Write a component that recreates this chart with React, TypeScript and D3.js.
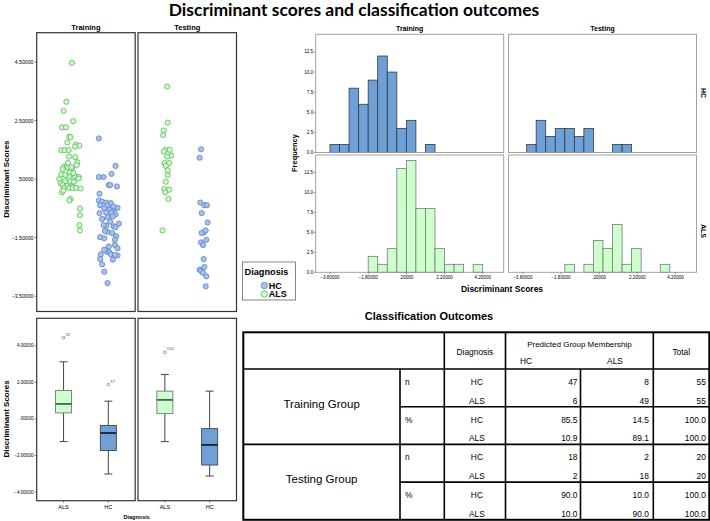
import React from 'react';
import * as d3 from 'd3';

const panels = ['Training', 'Testing'];
const diagnoses = ['ALS', 'HC'];

// scatter points: [horizontal jitter (-1..1), discriminant score]
const trainALS: [number, number][] = [
  [0.45, 4.47], [-0.06, 3.14], [-0.31, 2.83], [0.57, 2.48], [-0.46, 2.27], [-0.09, 2.27], [0.21, 1.95], [0.33, 1.93],
  [0.03, 1.75], [0.82, 1.68], [1.12, 1.64], [0.72, 1.61], [-0.52, 1.49], [-0.21, 1.49], [0.15, 1.49], [0.18, 1.27],
  [0.75, 1.25], [0.94, 1.07], [0.87, 0.98], [-0.28, 0.93], [-0.03, 0.91], [0.09, 0.89], [-0.4, 0.84], [0.45, 0.86],
  [0.27, 0.73], [-0.52, 0.66], [-0.15, 0.64], [0.75, 0.59], [1.06, 0.57], [0.21, 0.57], [-0.7, 0.5], [-0.21, 0.43],
  [0.33, 0.43], [0.63, 0.41], [1.06, 0.52], [-0.58, 0.36], [-0.4, 0.3], [-0.03, 0.27], [0.45, 0.25], [-0.28, 0.2],
  [0.21, 0.2], [0.51, 0.2], [0.82, 0.2], [1.24, 0.18], [-0.46, 0.05], [-0.33, 0.11], [0.33, -0.18], [0.21, -0.23],
  [1.18, -0.5], [1.18, -0.73], [1.12, -1.07], [1.18, -1.25], [0.39, 0.91], [0.57, 0.7], [0.09, 1.05],
];
const trainHC: [number, number][] = [
  [-0.55, 1.89], [0.97, 0.95], [0.6, 0.68], [-0.55, 0.57], [-0.12, 0.57], [0.36, 0.3], [0.48, 0.3], [1.09, 0.25],
  [-0.49, 0.0], [-0.55, -0.23], [-0.25, -0.27], [0.12, -0.3], [-0.43, -0.39], [0.24, -0.39], [0.54, -0.32],
  [-0.06, -0.5], [0.42, -0.55], [0.85, -0.5], [1.15, -0.48], [-0.49, -0.66], [0.12, -0.64], [0.6, -0.64],
  [0.97, -0.7], [-0.25, -0.86], [0.24, -0.8], [0.72, -0.77], [1.27, -1.02], [0.78, -1.11], [0.97, -1.14],
  [0.12, -1.09], [0.24, -1.3], [0.0, -1.27], [1.03, -1.45], [-0.43, -1.48], [-0.06, -1.52], [0.91, -1.57],
  [0.91, -1.75], [1.15, -1.86], [0.18, -1.98], [0.42, -2.0], [-0.37, -2.07], [0.54, -2.07], [1.15, -2.11],
  [0.91, -2.09], [-0.43, -2.23], [-0.25, -2.41], [-0.06, -2.66], [0.24, -3.05], [0.78, -0.43], [0.48, -0.95],
  [-0.12, -1.07], [0.66, -1.34], [0.36, -1.8], [-0.06, -1.91], [0.72, -2.25],
];
const testALS: [number, number][] = [
  [-0.11, 3.66], [-0.05, 2.43], [-0.41, 2.16], [-0.47, 2.0], [-0.23, 1.5], [0.13, 1.5], [0.25, 1.3], [-0.11, 1.27],
  [-0.35, 1.05], [0.07, 1.05], [-0.23, 0.95], [-0.05, 0.64], [-0.23, 0.41], [-0.35, 0.16], [0.07, 0.14],
  [-0.29, 0.05], [0.01, -0.18], [-0.53, -1.25], [-0.41, 1.45], [-0.05, 0.8],
];
const testHC: [number, number][] = [
  [-0.47, 1.52], [-0.59, 1.23], [-0.53, -0.3], [-0.17, -0.39], [0.07, -0.39], [-0.41, -0.66], [0.13, -0.98],
  [-0.23, -1.32], [-0.41, -1.34], [-0.05, -1.25], [0.01, -1.57], [-0.47, -1.66], [-0.29, -1.75], [-0.23, -2.23],
  [-0.59, -2.59], [-0.47, -2.64], [-0.17, -2.5], [-0.29, -2.7], [0.01, -2.82], [-0.05, -3.16],
];

const scatterTicks = [4.5, 2.5, 0.5, -1.5, -3.5];
const boxTicks = [4, 2, 0, -2, -4];
const histXTicks = [-3.8, -1.8, 0.2, 2.2, 4.2];
const histYTicks = [0, 2.5, 5, 7.5, 10, 12.5];

// box plot summaries: [low whisker, Q1, median, Q3, high whisker]
const trainALSBox = [-1.24, 0.33, 0.82, 1.55, 3.12];
const trainHCBox = [-3.01, -1.73, -0.77, -0.36, 0.97];
const testALSBox = [-1.24, 0.29, 1.04, 1.52, 2.43];
const testHCBox = [-3.12, -2.52, -1.42, -0.53, 1.52];
const boxOutliers = [
  { panel: 'Training', dx: 'ALS', v: 4.44, id: '32' },
  { panel: 'Training', dx: 'HC', v: 1.88, id: '57' },
  { panel: 'Testing', dx: 'ALS', v: 3.64, id: '120' },
];

// histograms (bin width 0.5)
const binWidth = 0.5;
const trainHCStart = -3.8;
const trainHCCounts = [1, 1, 8, 6, 9, 12, 10, 3, 4, 0, 1];
const testHCStart = -3.6;
const testHCCounts = [1, 4, 2, 3, 3, 2, 3, 0, 0, 1, 1];
const trainALSStart = -1.8;
const trainALSCounts = [2, 1, 3, 13, 14, 8, 8, 3, 1, 1, 0, 1];
const testALSStart = -1.6;
const testALSCounts = [1, 0, 1, 4, 3, 6, 1, 3, 0, 0, 1];

// classification table
const tableGroups = ['Training Group', 'Testing Group'];
const tableStats = ['n', '%'];
const tableDiag = ['HC', 'ALS'];
const predictedHC = ['47', '6', '85.5', '10.9', '18', '2', '90.0', '10.0'];
const predictedALS = ['8', '49', '14.5', '89.1', '2', '18', '10.0', '90.0'];
const totals = ['55', '55', '100.0', '100.0', '20', '20', '100.0', '100.0'];

const GREEN_FILL = '#ccfacc';
const GREEN_STROKE = '#5cb85c';
const BLUE_FILL = '#a8c2ec';
const BLUE_STROKE = '#5a7fc6';
const BAR_BLUE = '#6fa1d6';
const BAR_GREEN = '#ccffcc';
const ARIAL = '"Liberation Sans", Arial, sans-serif';

const spss = (v: number) => d3.format('.5f')(v).replace(/^(-?)0\./, '$1.');

function Scatter() {
  const y = d3.scaleLinear().domain([-4.02, 5.5]).range([311.5, 32.7]);
  const x0s = [36.7, 138];
  const w = 98.5;
  const jit = d3.scaleLinear().domain([-1, 1]).range([-11, 11]);
  const data: Record<string, [number, number][][]> = {
    Training: [trainALS, trainHC],
    Testing: [testALS, testHC],
  };
  return (
    <g>
      {panels.map((p, i) => {
        const x = d3.scalePoint<string>().domain(diagnoses).range([x0s[i], x0s[i] + w]).padding(0.8);
        return (
          <g key={p}>
            <text x={x0s[i] + w / 2} y={27} textAnchor="middle" dominantBaseline="central" fontFamily={ARIAL} fontWeight="bold" fontSize={7.5}>{p}</text>
            {data[p].map((pts, k) =>
              pts.map((d, j) => (
                <circle key={`${k}-${j}`} cx={(x(diagnoses[k]) as number) + jit(d[0])} cy={y(d[1])} r={2.6}
                  fill={k === 0 ? GREEN_FILL : BLUE_FILL} stroke={k === 0 ? GREEN_STROKE : BLUE_STROKE} strokeWidth={0.8} />
              ))
            )}
            <rect x={x0s[i]} y={32.7} width={w} height={311.5 - 32.7} fill="none" stroke="#333" strokeWidth={1.2} />
          </g>
        );
      })}
      {scatterTicks.map((t) => (
        <g key={t}>
          <line x1={34.5} x2={36.7} y1={y(t)} y2={y(t)} stroke="#333" strokeWidth={0.6} />
          <text x={33.5} y={y(t)} textAnchor="end" dominantBaseline="central" fontFamily={ARIAL} fontSize={5.2}>{spss(t)}</text>
        </g>
      ))}
      <text transform={`translate(6,${y(0.5)}) rotate(-90)`} textAnchor="middle" dominantBaseline="central" fontFamily={ARIAL} fontWeight="bold" fontSize={8}>Discriminant Scores</text>
    </g>
  );
}

function Boxes() {
  const y = d3.scaleLinear().domain([-4.47, 5.5]).range([500.7, 318.3]);
  const x0s = [36.7, 138];
  const w = 98.5;
  const bw = 16;
  const stats: Record<string, number[][]> = {
    Training: [trainALSBox, trainHCBox],
    Testing: [testALSBox, testHCBox],
  };
  return (
    <g>
      {panels.map((p, i) => {
        const x = d3.scalePoint<string>().domain(diagnoses).range([x0s[i], x0s[i] + w]).padding(0.6);
        return (
          <g key={p}>
            {stats[p].map((s, k) => {
              const cx = x(diagnoses[k]) as number;
              const isALS = k === 0;
              return (
                <g key={k}>
                  <line x1={cx} x2={cx} y1={y(s[0])} y2={y(s[4])} stroke="#444" strokeWidth={1} />
                  <line x1={cx - 4} x2={cx + 4} y1={y(s[0])} y2={y(s[0])} stroke="#444" strokeWidth={1} />
                  <line x1={cx - 4} x2={cx + 4} y1={y(s[4])} y2={y(s[4])} stroke="#444" strokeWidth={1} />
                  <rect x={cx - bw / 2} y={y(s[3])} width={bw} height={y(s[1]) - y(s[3])}
                    fill={isALS ? BAR_GREEN : BAR_BLUE} stroke={isALS ? '#777' : '#444'} strokeWidth={0.9} />
                  <line x1={cx - bw / 2} x2={cx + bw / 2} y1={y(s[2])} y2={y(s[2])} stroke={isALS ? '#3d4f3d' : '#111'} strokeWidth={1.6} />
                </g>
              );
            })}
            {boxOutliers.filter((o) => o.panel === p).map((o) => {
              const cx = x(o.dx) as number;
              return (
                <g key={o.id}>
                  <circle cx={cx} cy={y(o.v)} r={1.3} fill="none" stroke={o.dx === 'ALS' ? '#4a8a4a' : '#777'} strokeWidth={0.7} />
                  <text x={cx + 2} y={y(o.v) - 2} fontFamily={ARIAL} fontSize={4.2} fill="#555">{o.id}</text>
                </g>
              );
            })}
            <rect x={x0s[i]} y={318.3} width={w} height={500.7 - 318.3} fill="none" stroke="#333" strokeWidth={1.2} />
            {diagnoses.map((d) => (
              <g key={d}>
                <line x1={x(d) as number} x2={x(d) as number} y1={500.7} y2={502.7} stroke="#333" strokeWidth={0.6} />
                <text x={x(d) as number} y={507} textAnchor="middle" dominantBaseline="central" fontFamily={ARIAL} fontSize={5.5}>{d}</text>
              </g>
            ))}
          </g>
        );
      })}
      {boxTicks.map((t) => (
        <g key={t}>
          <line x1={34.5} x2={36.7} y1={y(t)} y2={y(t)} stroke="#333" strokeWidth={0.6} />
          <text x={33.5} y={y(t)} textAnchor="end" dominantBaseline="central" fontFamily={ARIAL} fontSize={4.6}>{spss(t)}</text>
        </g>
      ))}
      <text transform={`translate(6,${y(0)}) rotate(-90)`} textAnchor="middle" dominantBaseline="central" fontFamily={ARIAL} fontWeight="bold" fontSize={8}>Discriminant Scores</text>
      <text x={136.7} y={516.5} textAnchor="middle" dominantBaseline="central" fontFamily={ARIAL} fontWeight="bold" fontSize={5.5}>Diagnosis</text>
    </g>
  );
}

function Legend() {
  return (
    <g fontFamily={ARIAL} fontWeight="bold">
      <rect x={242.5} y={262} width={53} height={38} fill="#fff" stroke="#666" strokeWidth={0.8} />
      <text x={244.5} y={271.5} dominantBaseline="central" fontSize={9.2}>Diagnosis</text>
      {['HC', 'ALS'].map((d, i) => (
        <g key={d}>
          <circle cx={264.3} cy={285.5 + i * 8.5} r={3.2} fill={d === 'HC' ? BLUE_FILL : GREEN_FILL} stroke={d === 'HC' ? BLUE_STROKE : GREEN_STROKE} strokeWidth={0.8} />
          <text x={268.8} y={285.8 + i * 8.5} dominantBaseline="central" fontSize={9}>{d}</text>
        </g>
      ))}
    </g>
  );
}

function Histograms() {
  const x0s = [315.7, 508.5];
  const w = 188;
  const rows = [
    { dx: 'HC', top: 34.3, bottom: 152.5 },
    { dx: 'ALS', top: 155, bottom: 272.3 },
  ];
  const series: Record<string, { start: number; counts: number[] }> = {
    'Training-HC': { start: trainHCStart, counts: trainHCCounts },
    'Testing-HC': { start: testHCStart, counts: testHCCounts },
    'Training-ALS': { start: trainALSStart, counts: trainALSCounts },
    'Testing-ALS': { start: testALSStart, counts: testALSCounts },
  };
  return (
    <g fontFamily={ARIAL}>
      {panels.map((p, i) => (
        <text key={p} x={x0s[i] + w / 2} y={28.3} textAnchor="middle" dominantBaseline="central" fontWeight="bold" fontSize={7}>{p}</text>
      ))}
      {rows.map((r) => {
        const y = d3.scaleLinear().domain([0, 14.7]).range([r.bottom, r.top]);
        return (
          <g key={r.dx}>
            {panels.map((p, i) => {
              const x = d3.scaleLinear().domain([-4.55, 5.3]).range([x0s[i], x0s[i] + w]);
              const s = series[`${p}-${r.dx}`];
              return (
                <g key={p}>
                  {s.counts.map((c, j) => c > 0 ? (
                    <rect key={j} x={x(s.start + j * binWidth)} y={y(c)} width={x(s.start + (j + 1) * binWidth) - x(s.start + j * binWidth)}
                      height={y(0) - y(c)} fill={r.dx === 'HC' ? BAR_BLUE : BAR_GREEN}
                      stroke={r.dx === 'HC' ? '#2f3b48' : '#7a7a7a'} strokeWidth={0.8} />
                  ) : null)}
                  <rect x={x0s[i]} y={r.top} width={w} height={r.bottom - r.top} fill="none" stroke="#999" strokeWidth={0.9} />
                  {r.dx === 'ALS' && histXTicks.map((t) => (
                    <g key={t}>
                      <line x1={x(t)} x2={x(t)} y1={r.bottom} y2={r.bottom + 2} stroke="#555" strokeWidth={0.6} />
                      <text x={x(t)} y={277.3} textAnchor="middle" dominantBaseline="central" fontSize={4.6}>{spss(t)}</text>
                    </g>
                  ))}
                </g>
              );
            })}
            {histYTicks.map((t) => (
              <g key={t}>
                <line x1={x0s[0] - 2} x2={x0s[0]} y1={y(t)} y2={y(t)} stroke="#555" strokeWidth={0.6} />
                <text x={x0s[0] - 2.5} y={y(t)} textAnchor="end" dominantBaseline="central" fontSize={4.6}>{d3.format('.1f')(t)}</text>
              </g>
            ))}
            <text transform={`translate(703.5,${r.dx === 'HC' ? 93 : 231}) rotate(90)`} textAnchor="middle" dominantBaseline="central" fontWeight="bold" fontSize={7}>{r.dx}</text>
          </g>
        );
      })}
      <text transform="translate(294,153) rotate(-90)" textAnchor="middle" dominantBaseline="central" fontWeight="bold" fontSize={7.5}>Frequency</text>
      <text x={502} y={288.5} textAnchor="middle" dominantBaseline="central" fontWeight="bold" fontSize={8.5}>Discriminant Scores</text>
    </g>
  );
}

function Table() {
  const left = 243.3, right = 709.3, top = 332.3, headBottom = 369, bottom = 519.8;
  const cols = [left, 400, 444.3, 505.5, 580.5, 653.3, right];
  const rows = d3.scaleBand<number>().domain(d3.range(8)).range([headBottom, bottom]).paddingInner(0).paddingOuter(0);
  const rh = rows.bandwidth();
  const ty = (i: number) => (rows(i) as number) + rh * 0.68;
  const fs = 8.4;
  return (
    <g fontFamily={ARIAL}>
      <text x={429} y={315.7} textAnchor="middle" dominantBaseline="central" fontWeight="bold" fontSize={11}>Classification Outcomes</text>
      {/* header */}
      <text x={(cols[2] + cols[3]) / 2} y={351.7} textAnchor="middle" dominantBaseline="central" fontSize={fs}>Diagnosis</text>
      <text x={(cols[3] + cols[5]) / 2} y={344} textAnchor="middle" dominantBaseline="central" fontSize={8}>Predicted Group Membership</text>
      <text x={526} y={360.5} textAnchor="middle" dominantBaseline="central" fontSize={fs}>HC</text>
      <text x={615} y={360.5} textAnchor="middle" dominantBaseline="central" fontSize={fs}>ALS</text>
      <text x={(cols[5] + cols[6]) / 2} y={352} textAnchor="middle" dominantBaseline="central" fontSize={fs}>Total</text>
      {/* body */}
      {tableGroups.map((g, gi) => (
        <text key={g} x={(cols[0] + cols[1]) / 2} y={((rows(gi * 4) as number) + (rows(gi * 4 + 3) as number) + rh) / 2 - 3}
          textAnchor="middle" dominantBaseline="central" fontSize={11.5}>{g}</text>
      ))}
      {d3.range(8).map((i) => (
        <g key={i}>
          {i % 2 === 0 && (
            <text x={405} y={ty(i)} dominantBaseline="central" fontSize={fs}>{tableStats[(i / 2) % 2]}</text>
          )}
          <text x={(cols[2] + cols[3]) / 2 + 2} y={ty(i)} textAnchor="middle" dominantBaseline="central" fontSize={fs}>{tableDiag[i % 2]}</text>
          <text x={cols[4] - 3} y={ty(i)} textAnchor="end" dominantBaseline="central" fontSize={fs}>{predictedHC[i]}</text>
          <text x={cols[5] - 4.5} y={ty(i)} textAnchor="end" dominantBaseline="central" fontSize={fs}>{predictedALS[i]}</text>
          <text x={cols[6] - 3.5} y={ty(i)} textAnchor="end" dominantBaseline="central" fontSize={fs}>{totals[i]}</text>
        </g>
      ))}
      {/* grid lines */}
      <g stroke="#000" strokeWidth={1.6}>
        <line x1={left} x2={right} y1={headBottom} y2={headBottom} />
        <line x1={left} x2={right} y1={rows(4) as number} y2={rows(4) as number} />
        {[2, 6].map((r) => (
          <line key={r} x1={cols[1]} x2={right} y1={rows(r) as number} y2={rows(r) as number} />
        ))}
        {[2, 3, 5].map((c) => (
          <line key={c} x1={cols[c]} x2={cols[c]} y1={top} y2={bottom} />
        ))}
        {[1, 4].map((c) => (
          <line key={c} x1={cols[c]} x2={cols[c]} y1={headBottom} y2={bottom} />
        ))}
      </g>
      <rect x={left} y={top} width={right - left} height={bottom - top} fill="none" stroke="#000" strokeWidth={2} />
    </g>
  );
}

export default function App() {
  return (
    <svg width={710} height={521} viewBox="0 0 710 521" style={{ position: 'absolute', left: 0, top: 0, background: '#fff' }}>
      <rect x={0} y={0} width={710} height={521} fill="#fff" />
      <text x={354} y={9.5} textAnchor="middle" dominantBaseline="central" fontFamily="Lato, 'Open Sans', sans-serif" fontWeight="bold" fontSize={17.5}>
        Discriminant scores and classification outcomes
      </text>
      <Scatter />
      <Boxes />
      <Legend />
      <Histograms />
      <Table />
    </svg>
  );
}
